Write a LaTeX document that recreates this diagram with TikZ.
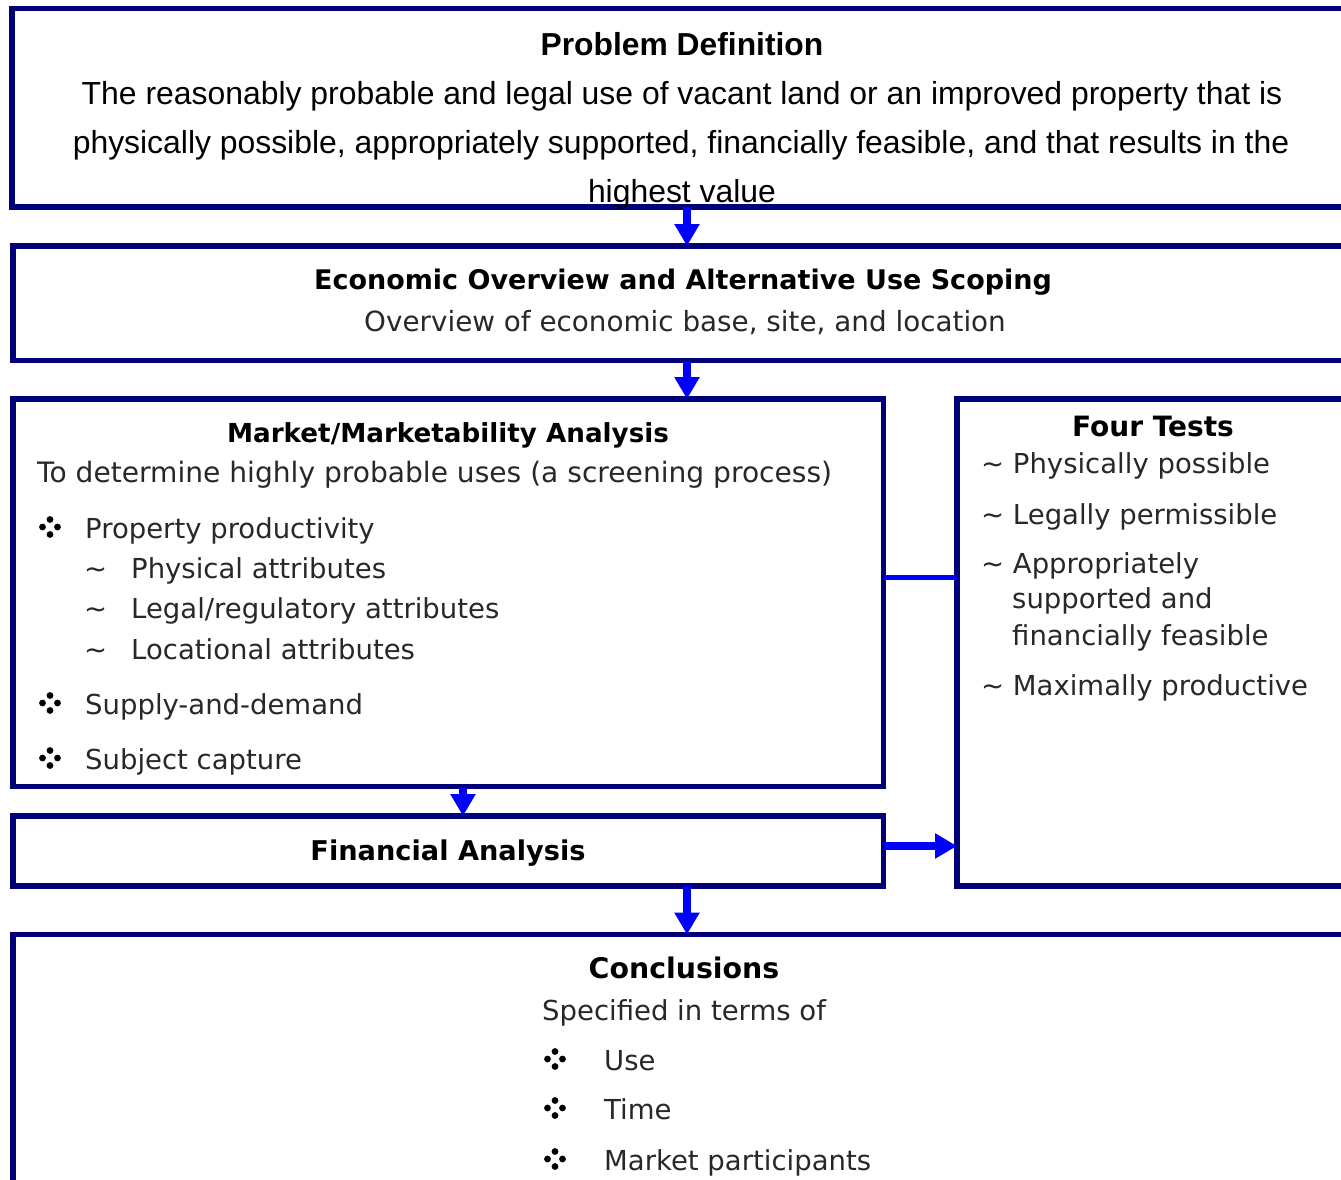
\documentclass[tikz,border=0pt]{standalone}
\usepackage{fontspec}
\setmainfont{Liberation Sans}
\newfontfamily\tah{DejaVu Sans}
\usetikzlibrary{arrows.meta}
\definecolor{boxnavy}{RGB}{0,0,120}
\definecolor{arrblue}{RGB}{0,0,255}
\definecolor{txtgray}{RGB}{40,40,40}
\begin{document}
\begin{tikzpicture}[x=1pt,y=-1pt,
  box/.style={draw=boxnavy,line width=5.5pt,fill=white,inner sep=0pt,outer sep=0pt,anchor=north west},
  arr/.style={draw=arrblue,line width=8pt,-{Triangle[width=24pt,length=22pt]}},
  link/.style={draw=arrblue,line width=5pt},
  ptxt/.style={font=\fontsize{31.9}{38}\selectfont,text=black,inner sep=0pt,anchor=base},
  ptitle/.style={ptxt,font=\fontsize{31.8}{38}\selectfont\bfseries},
  ttxt/.style={font=\tah\fontsize{27.5}{33}\selectfont,text=txtgray,inner sep=0pt,anchor=base west},
  ttitle/.style={font=\tah\bfseries\fontsize{#1}{32}\selectfont,text=black,inner sep=0pt,anchor=base},
  ttitle/.default=27,
  fourdot/.pic={\fill (0,-7.5) circle (3.4); \fill (0,7.5) circle (3.4);
                \fill (-7.5,0) circle (3.4); \fill (7.5,0) circle (3.4);}
]
\useasboundingbox[fill=white] (0,0) rectangle (1341,1179);

% boxes
\node[box,minimum width=1340pt,minimum height=198.5pt] (b1) at (12,8.5) {};
\node[box,minimum width=1340pt,minimum height=114.5pt] (b2) at (13,246) {};
\node[box,minimum width=870.5pt,minimum height=387.5pt] (b3) at (13,399) {};
\node[box,minimum width=395pt,minimum height=487pt] (b4) at (957,399) {};
\node[box,minimum width=870.5pt,minimum height=70pt] (b5) at (13,816) {};
\node[box,minimum width=1340pt,minimum height=300pt] (b6) at (13,934.5) {};

% connector guides
\coordinate (xa) at (687,0);
\coordinate (xb) at (463,0);
\coordinate (ya) at (0,577);
\coordinate (yb) at (0,846);

\draw[arr] (xa |- b1.south) -- (xa |- b2.north);
\draw[arr] (xa |- b2.south) -- (xa |- b3.north);
\draw[arr] (xb |- b3.south) -- (xb |- b5.north);
\draw[arr] (xa |- b5.south) -- (xa |- b6.north);
\draw[link] (b3.east |- ya) -- (b4.west |- ya);
\draw[arr] (b5.east |- yb) -- (b4.west |- yb);

% box 1
\node[ptitle] (t1) at (682,55) {Problem Definition};
\node[ptxt] (t1a) at (682,104) {The reasonably probable and legal use of vacant land or an improved property that is};
\node[ptxt] (t1b) at (681,153) {physically possible, appropriately supported, financially feasible, and that results in the};
\node[ptxt] (t1c) at (682,202) {highest value};

% box 2
\node[ttitle=27] (t2) at (683,289) {Economic Overview and Alternative Use Scoping};
\node[ttxt,anchor=base,font=\tah\fontsize{27.8}{33}\selectfont] (t2a) at (685,331) {Overview of economic base, site, and location};

% box 3
\node[ttitle=26.2] (t3) at (448,442) {Market/Marketability Analysis};
\node[ttxt,font=\tah\fontsize{28.1}{33}\selectfont] (t3a) at (37,482) {To determine highly probable uses (a screening process)};
\pic at (50,527) {fourdot};
\node[ttxt] (t3b) at (85,538) {Property productivity};
\node[ttxt] (t3b1t) at (84,578) {\char`\~};
\node[ttxt] (t3b1) at (131,578) {Physical attributes};
\node[ttxt] (t3b2t) at (84,618) {\char`\~};
\node[ttxt] (t3b2) at (131,618) {Legal/regulatory attributes};
\node[ttxt] (t3b3t) at (84,659) {\char`\~};
\node[ttxt] (t3b3) at (131,659) {Locational attributes};
\pic at (50,703) {fourdot};
\node[ttxt] (t3c) at (85,714) {Supply-and-demand};
\pic at (50,758) {fourdot};
\node[ttxt] (t3d) at (85,769) {Subject capture};

% box 4
\node[ttitle=28] (t4) at (1153,436) {Four Tests};
\node[ttxt] (t4a) at (981,473) {\char`\~\ Physically possible};
\node[ttxt] (t4b) at (981,524) {\char`\~\ Legally permissible};
\node[ttxt] (t4c) at (981,573) {\char`\~\ Appropriately};
\node[ttxt] (t4c2) at (1012,608) {supported and};
\node[ttxt] (t4c3) at (1012,645) {financially feasible};
\node[ttxt] (t4d) at (981,695) {\char`\~\ Maximally productive};

% box 5
\node[ttitle=27.2] (t5) at (448,860) {Financial Analysis};

% box 6
\node[ttitle=28.4] (t6) at (684,978) {Conclusions};
\node[ttxt] (t6a) at (542,1020) {Specified in terms of};
\pic at (555,1059) {fourdot};
\node[ttxt] (t6b) at (604,1070) {Use};
\pic at (555,1108) {fourdot};
\node[ttxt] (t6c) at (604,1119) {Time};
\pic at (555,1159) {fourdot};
\node[ttxt] (t6d) at (604,1170) {Market participants};
\end{tikzpicture}
\end{document}
